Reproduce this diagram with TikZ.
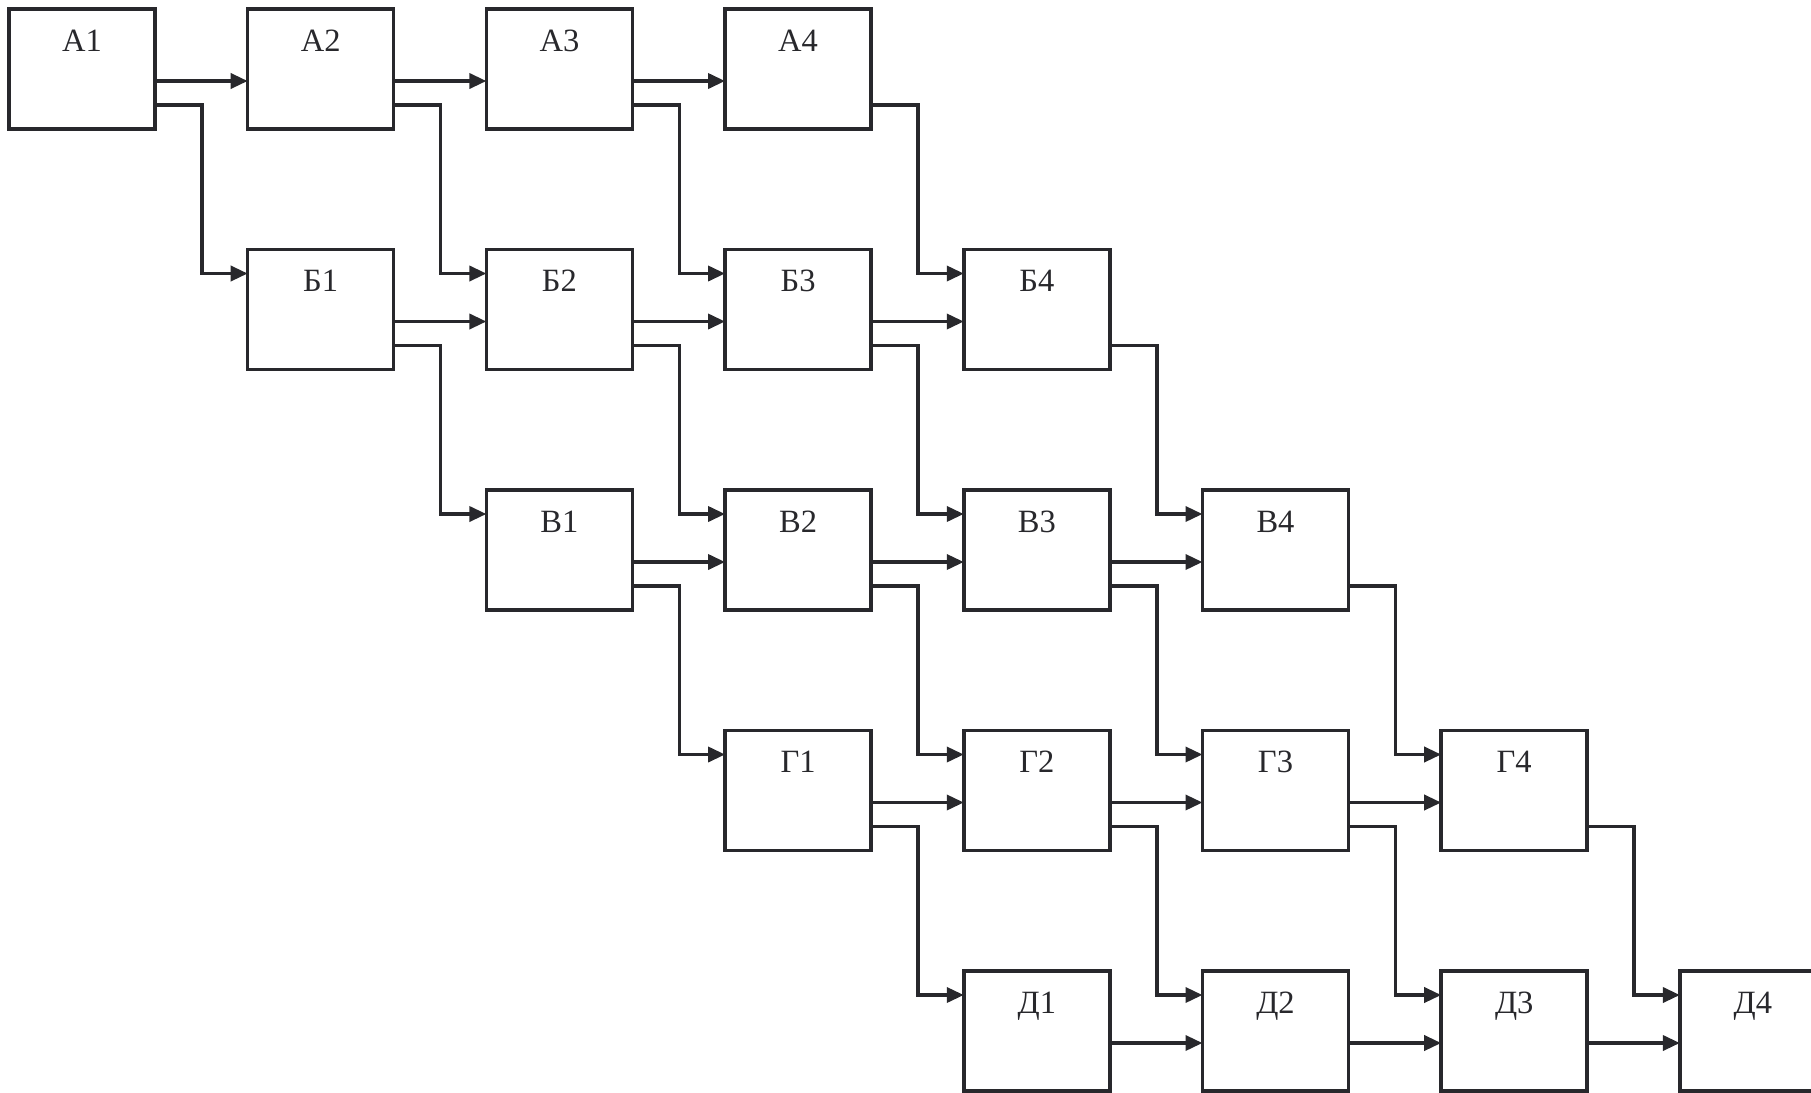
\documentclass[tikz,border=0pt]{standalone}
\usepackage{fontspec}
\setmainfont{Liberation Serif}
\usetikzlibrary{arrows.meta,positioning,calc}
\definecolor{ink}{RGB}{40,40,44}

\begin{document}
\begin{tikzpicture}[node distance=2.41cm and 1.854cm,line width=2pt,
  every node/.style={rectangle,draw=ink,text=ink,minimum width=2.92cm,inner ysep=0pt,outer sep=0pt,
    text height=0.84cm,text depth=1.56cm,font=\fontsize{18.5}{22}\selectfont},
  flow/.style={draw=ink,-{Triangle[length=0.34cm,width=0.3cm]}}]
\useasboundingbox (-1.64,1.38) rectangle ++(36.22,-21.84);
\node (a1) {А1};
\node (a2) [right=of a1] {А2};
\node (a3) [right=of a2] {А3};
\node (a4) [right=of a3] {А4};
\node (b1) [below=of a2] {Б1};
\node (b2) [right=of b1] {Б2};
\node (b3) [right=of b2] {Б3};
\node (b4) [right=of b3] {Б4};
\node (v1) [below=of b2] {В1};
\node (v2) [right=of v1] {В2};
\node (v3) [right=of v2] {В3};
\node (v4) [right=of v3] {В4};
\node (g1) [below=of v2] {Г1};
\node (g2) [right=of g1] {Г2};
\node (g3) [right=of g2] {Г3};
\node (g4) [right=of g3] {Г4};
\node (d1) [below=of g2] {Д1};
\node (d2) [right=of d1] {Д2};
\node (d3) [right=of d2] {Д3};
\node (d4) [right=of d3] {Д4};
% along a row
\foreach \u/\w in {a1/a2,a2/a3,a3/a4,b1/b2,b2/b3,b3/b4,v1/v2,v2/v3,v3/v4,
  g1/g2,g2/g3,g3/g4,d1/d2,d2/d3,d3/d4}
  \draw[flow] ($(\u.north east)!0.6!(\u.south east)$) -- ($(\w.north west)!0.6!(\w.south west)$);
% down to the next row
\foreach \u/\w in {a1/b1,a2/b2,a3/b3,a4/b4,b1/v1,b2/v2,b3/v3,b4/v4,
  v1/g1,v2/g2,v3/g3,v4/g4,g1/d1,g2/d2,g3/d3,g4/d4}
  \draw[flow] ($(\u.north east)!0.8!(\u.south east)$) -- ++(0.94,0) |- ($(\w.north west)!0.2!(\w.south west)$);
\end{tikzpicture}
\end{document}
